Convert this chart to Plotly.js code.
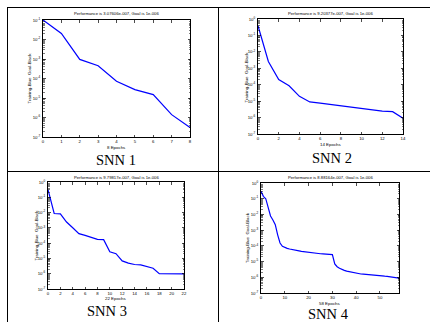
<!DOCTYPE html>
<html><head><meta charset="utf-8">
<script src="https://cdn.plot.ly/plotly-3.0.1.min.js"></script>
<style>html,body{margin:0;padding:0;background:#fff;overflow:hidden}#c{width:430px;height:322px}</style>
</head><body><div id="c"></div>
<script>
const W = 430, H = 322;

// ---- data ----
const epochs1 = [0,1,2,3,4,5,6,7,8];
const perf1 = [0.1, 0.0204, 9.5e-4, 4.5e-4, 7.2e-5, 2.7e-5, 1.5e-5, 1.4e-6, 3.076e-7];

const epochs2 = [0,1,2,3,4,5,6,7,8,9,10,11,12,13,14];
const perf2 = [0.39, 2.6e-3, 2.04e-4, 8.7e-5, 1.95e-5, 8.9e-6, 7.6e-6, 6.3e-6, 5.25e-6, 4.35e-6, 3.55e-6, 2.95e-6, 2.45e-6, 2.3e-6, 9.204e-7];

const epochs3 = [0,1,2,3,4,5,6,7,8,9,10,11,12,13,14,15,16,17,18,19,20,21,22];
const perf3 = [0.316, 8.7e-3, 8.3e-3, 2.4e-3, 1.02e-3, 4.2e-4, 3.2e-4, 2.5e-4, 1.78e-4, 1.7e-4, 2.75e-5, 2.05e-5, 6.9e-6, 4.9e-6, 4.0e-6, 3.8e-6, 2.95e-6, 2.3e-6, 1.02e-6, 1.01e-6, 1.0e-6, 9.9e-7, 9.798e-7];

const epochs4 = [0,1,2,3,4,5,6,7,8,9,10,11,12,13,14,15,16,17,18,19,20,21,22,23,24,25,26,27,28,29,30,31,32,33,34,35,36,37,38,39,40,41,42,43,44,45,46,47,48,49,50,51,52,53,54,55,56,57,58];
const perf4 = [0.295, 0.141, 0.1, 0.0251, 7.94e-3, 4.47e-3, 2.24e-3, 5.0e-4, 1.51e-4, 9.3e-5,
  7.6e-5, 6.9e-5, 6.3e-5, 5.75e-5, 5.4e-5, 5.0e-5, 4.8e-5, 4.5e-5, 4.25e-5, 4.0e-5,
  3.8e-5, 3.7e-5, 3.55e-5, 3.4e-5, 3.3e-5, 3.15e-5, 3.1e-5, 2.95e-5, 2.9e-5, 2.8e-5,
  2.75e-5, 7.1e-6, 4.7e-6, 3.8e-6, 3.15e-6, 2.75e-6, 2.45e-6, 2.25e-6, 2.05e-6, 1.9e-6,
  1.78e-6, 1.7e-6, 1.62e-6, 1.58e-6, 1.51e-6, 1.45e-6, 1.41e-6, 1.38e-6, 1.32e-6, 1.29e-6,
  1.26e-6, 1.2e-6, 1.17e-6, 1.15e-6, 1.1e-6, 1.07e-6, 1.02e-6, 9.5e-7, 8.88e-7];

const titles = [
  'Performance is 3.07606e-007, Goal is 1e-006',
  'Performance is 9.20377e-007, Goal is 1e-006',
  'Performance is 9.79817e-007, Goal is 1e-006',
  'Performance is 8.88164e-007, Goal is 1e-006'
];
const xTitles = ['8 Epochs', '14 Epochs', '22 Epochs', '58 Epochs'];
const yTitle = 'Training-Blue  Goal-Black';
const panelLabels = ['SNN 1', 'SNN 2', 'SNN 3', 'SNN 4'];

const yTickVals1 = [1e-7, 1e-6, 1e-5, 1e-4, 1e-3, 1e-2, 1e-1];
const yTickText1 = ['10<sup>-7</sup>','10<sup>-6</sup>','10<sup>-5</sup>','10<sup>-4</sup>','10<sup>-3</sup>','10<sup>-2</sup>','10<sup>-1</sup>'];
const yTickVals2 = [1e-7, 1e-6, 1e-5, 1e-4, 1e-3, 1e-2, 1e-1, 1];
const yTickText2 = ['10<sup>-7</sup>','10<sup>-6</sup>','10<sup>-5</sup>','10<sup>-4</sup>','10<sup>-3</sup>','10<sup>-2</sup>','10<sup>-1</sup>','10<sup>0</sup>'];

// ---- layout geometry (pixels) ----
const panels = [
  {x: epochs1, y: perf1, px:[43,190], py:[20,137], xr:[0,8],  dt:1,  yr:[-7,-1], tv:yTickVals1, tt:yTickText1, ty:14,  xly:147, yl:29,  lab:[116,160]},
  {x: epochs2, y: perf2, px:[258,403], py:[19,134], xr:[0,14], dt:2, yr:[-7,0], tv:yTickVals2, tt:yTickText2, ty:13,  xly:144, yl:246, lab:[332,158]},
  {x: epochs3, y: perf3, px:[48,184], py:[182,289], xr:[0,22], dt:2, yr:[-7,0], tv:yTickVals2, tt:yTickText2, ty:177, xly:298, yl:36,  lab:[107,311]},
  {x: epochs4, y: perf4, px:[261,399], py:[183,293], xr:[0,58], dt:10, yr:[-7,0], tv:yTickVals2, tt:yTickText2, ty:177, xly:303, yl:248, lab:[328,314]}
];

function minorVals(lo, hi) {
  const v = [];
  for (let d = lo; d < hi; d++) for (let k = 2; k <= 9; k++) v.push(k * Math.pow(10, d));
  return v;
}

const fx = p => p / W, fy = p => 1 - p / H;
const tickFont = {family: 'Liberation Sans, Arial, sans-serif', size: 4.3, color: '#000'};
const traces = [], annotations = [], shapes = [];
const layout = {
  width: W, height: H, margin: {l:0, r:0, t:0, b:0},
  paper_bgcolor: '#fff', plot_bgcolor: '#fff', showlegend: false,
  font: {family: 'Liberation Sans, Arial, sans-serif', color: '#000'}
};

panels.forEach((p, i) => {
  const n = i + 1;
  const xk = 'xaxis' + (n === 1 ? '' : n), yk = 'yaxis' + (n === 1 ? '' : n);
  const xa = 'x' + (n === 1 ? '' : n), ya = 'y' + (n === 1 ? '' : n);
  traces.push({x: p.x, y: p.y, type: 'scatter', mode: 'lines', xaxis: xa, yaxis: ya,
    line: {color: '#0000FF', width: 1.2}, hoverinfo: 'skip'});
  layout[xk] = {domain: [fx(p.px[0]), fx(p.px[1])], range: p.xr, tickmode: 'linear', tick0: 0, dtick: p.dt,
    ticks: 'inside', ticklen: 2.5, tickwidth: 0.7, tickcolor: '#000', showline: true, linecolor: '#000',
    linewidth: 1, mirror: 'allticks', showgrid: false, zeroline: false, tickfont: tickFont, anchor: ya,
    fixedrange: true, ticklabelstandoff: 0};
  layout[yk] = {domain: [fy(p.py[1]), fy(p.py[0])], type: 'log', range: p.yr, tickmode: 'array',
    tickvals: p.tv, ticktext: p.tt, ticks: 'inside', ticklen: 2.5, tickwidth: 0.7, tickcolor: '#000',
    showline: true, linecolor: '#000', linewidth: 1, mirror: 'allticks', showgrid: false, zeroline: false,
    tickfont: tickFont, anchor: xa, fixedrange: true, ticklabelstandoff: 1,
    minor: {tickmode: 'array', tickvals: minorVals(p.yr[0], p.yr[1]), ticks: 'inside', ticklen: 1.5,
      tickwidth: 0.5, tickcolor: '#000', showgrid: false}};
  const cx = (p.px[0] + p.px[1]) / 2, cy = (p.py[0] + p.py[1]) / 2;
  annotations.push({text: titles[i], xref: 'paper', yref: 'paper', x: fx(cx), y: fy(p.ty),
    xanchor: 'center', yanchor: 'middle', showarrow: false,
    font: {family: 'Liberation Sans, Arial, sans-serif', size: 4.2, color: '#000'}});
  annotations.push({text: xTitles[i], xref: 'paper', yref: 'paper', x: fx(cx), y: fy(p.xly),
    xanchor: 'center', yanchor: 'middle', showarrow: false,
    font: {family: 'Liberation Sans, Arial, sans-serif', size: 4.4, color: '#000'}});
  annotations.push({text: yTitle, xref: 'paper', yref: 'paper', x: fx(p.yl), y: fy(cy),
    xanchor: 'center', yanchor: 'middle', showarrow: false, textangle: -90,
    font: {family: 'Liberation Sans, Arial, sans-serif', size: 4.4, color: '#000'}});
  annotations.push({text: panelLabels[i], xref: 'paper', yref: 'paper', x: fx(p.lab[0]), y: fy(p.lab[1]),
    xanchor: 'center', yanchor: 'middle', showarrow: false,
    font: {family: 'Liberation Serif, Times New Roman, serif', size: 14.5, color: '#000'}});
});

// table rules
const rule = (x0, y0, x1, y1) => ({type: 'line', xref: 'paper', yref: 'paper',
  x0: fx(x0), y0: fy(y0), x1: fx(x1), y1: fy(y1), line: {color: '#000', width: 1}});
shapes.push(rule(7, 7.5, 430, 7.5));
shapes.push(rule(7, 171.5, 430, 171.5));
shapes.push(rule(7.5, 7, 7.5, 322));
shapes.push(rule(218.5, 7, 218.5, 322));

layout.annotations = annotations;
layout.shapes = shapes;
Plotly.newPlot('c', traces, layout, {staticPlot: true, displayModeBar: false});
</script></body></html>
